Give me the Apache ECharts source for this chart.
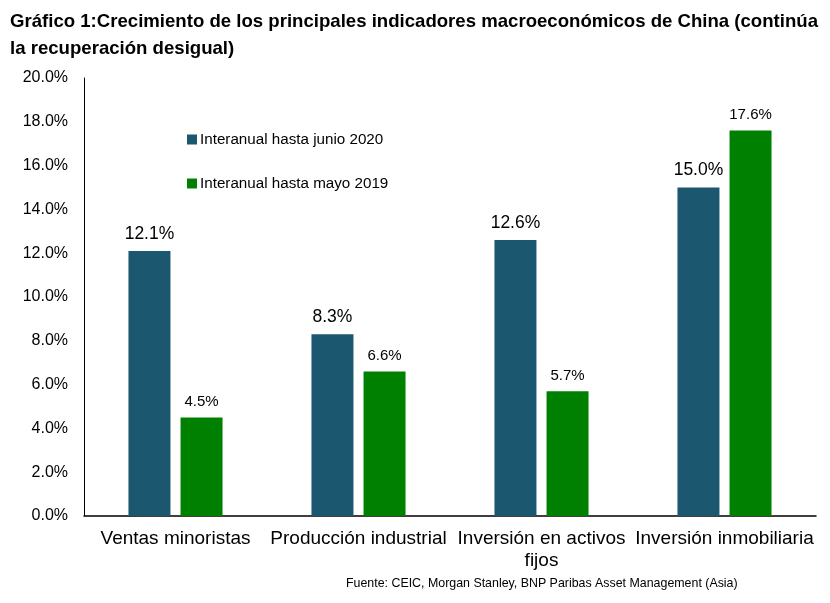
<!DOCTYPE html>
<html>
<head>
<meta charset="utf-8">
<script src="https://cdn.jsdelivr.net/npm/echarts@6/dist/echarts.min.js"></script>
<style>
  html, body { margin: 0; padding: 0; background: #fff; }
  #chart { width: 830px; height: 603px; }
</style>
</head>
<body>
<div id="chart"></div>
<script>
  // data
  var categories = ["Ventas minoristas", "Producción industrial", "Inversión en activos\nfijos", "Inversión inmobiliaria"];
  var seriesNames = ["Interanual hasta junio 2020", "Interanual hasta mayo 2019"];
  var junio2020 = [12.1, 8.3, 12.6, 15.0];
  var mayo2019 = [4.5, 6.6, 5.7, 17.6];
  var yTicks = [0, 2, 4, 6, 8, 10, 12, 14, 16, 18, 20];

  // no narrow font available, so Liberation Sans at smaller sizes
  var font = "'Liberation Sans', Arial, sans-serif";

  var chart = echarts.init(document.getElementById("chart"));
  var option = {
    backgroundColor: "#ffffff",
    animation: false,
    title: {
      text: "Gráfico 1:Crecimiento de los principales indicadores macroeconómicos de China (continúa\nla recuperación desigual)",
      left: 5,
      top: 3,
      textStyle: { fontFamily: font, fontWeight: "bold", fontSize: 18.6, color: "#000", lineHeight: 27 }
    },
    graphic: [{
      type: "text",
      left: 346,
      top: 578,
      style: { text: "Fuente: CEIC, Morgan Stanley, BNP Paribas Asset Management (Asia)", font: "12.4px " + font, fill: "#000" }
    }],
    legend: {
      orient: "vertical",
      left: 182,
      top: 127,
      itemGap: 29,
      itemWidth: 10,
      itemHeight: 10,
      icon: "rect",
      data: seriesNames,
      textStyle: { fontFamily: font, fontSize: 15.2, color: "#000", padding: [0, 0, 0, -2] }
    },
    grid: { left: 84, right: 14, top: 78, bottom: 87, containLabel: false },
    xAxis: {
      type: "category",
      data: categories,
      axisLine: { lineStyle: { color: "#000", width: 1.5 } },
      axisTick: { show: false },
      axisLabel: { fontFamily: font, fontSize: 19, color: "#000", margin: 12, lineHeight: 22, interval: 0 }
    },
    yAxis: {
      type: "value",
      min: yTicks[0],
      max: yTicks[yTicks.length - 1],
      interval: 2,
      splitLine: { show: false },
      axisLine: { show: true, lineStyle: { color: "#000", width: 1 } },
      axisTick: { show: false },
      axisLabel: {
        fontFamily: font, fontSize: 16, color: "#000", margin: 16,
        formatter: function (v) { return v.toFixed(1) + "%"; }
      }
    },
    series: [
      {
        name: seriesNames[0],
        type: "bar",
        data: junio2020,
        barWidth: 42,
        barGap: "24%",
        itemStyle: { color: "#1b5870" },
        label: {
          show: true, position: "top", distance: 8,
          fontFamily: font, fontSize: 17.5, color: "#000",
          formatter: function (p) { return p.value.toFixed(1) + "%"; }
        }
      },
      {
        name: seriesNames[1],
        type: "bar",
        data: mayo2019,
        barWidth: 42,
        itemStyle: { color: "#008000" },
        label: {
          show: true, position: "top", distance: 8,
          fontFamily: font, fontSize: 15, color: "#000",
          formatter: function (p) { return p.value.toFixed(1) + "%"; }
        }
      }
    ]
  };
  option && chart.setOption(option);
</script>
</body>
</html>
